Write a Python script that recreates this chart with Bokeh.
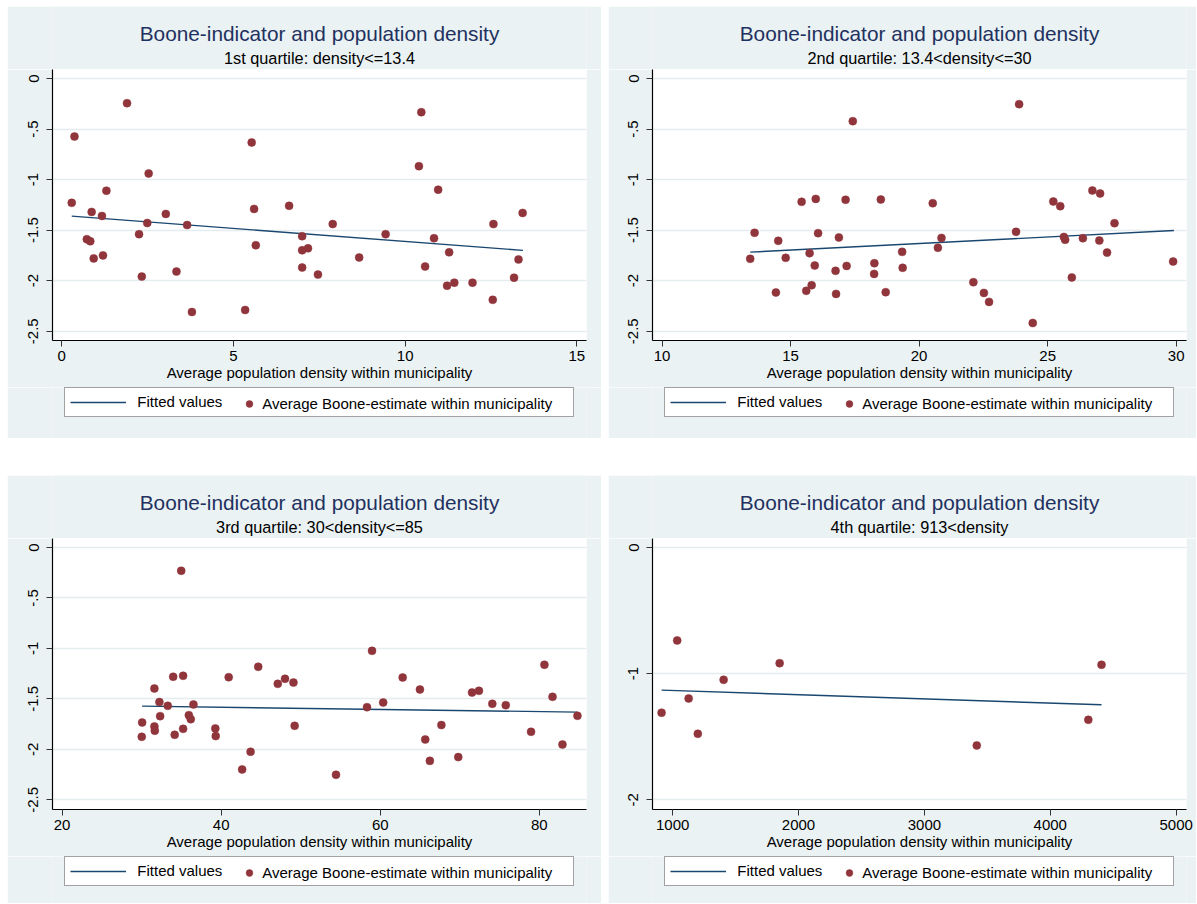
from bokeh.plotting import figure
from bokeh.models import Range1d, FixedTicker, Legend, LegendItem, Label, Spacer
from bokeh.layouts import row, column
from bokeh.embed import file_html
from bokeh.resources import INLINE

# ---------------- data ----------------
TITLE = "Boone-indicator and population density"
SUBTITLES = ["1st quartile: density<=13.4", "2nd quartile: 13.4<density<=30",
             "3rd quartile: 30<density<=85", "4th quartile: 913<density"]
XLABEL = "Average population density within municipality"
LEG_FIT = "Fitted values"
LEG_PTS = "Average Boone-estimate within municipality"

x1 = [0.29, 0.37, 1.90, 0.87, 1.17, 1.30, 2.53, 0.73, 0.83, 0.93, 1.20, 2.25, 2.49, 2.33, 3.03,
      3.34, 3.65, 3.79, 5.34, 5.53, 5.60, 5.65, 6.62, 7.00, 7.00, 7.17, 7.00, 7.46, 7.89, 8.66,
      9.43, 10.40, 10.47, 10.58, 10.84, 10.96, 11.28, 11.22, 11.43, 11.96, 12.57, 12.55, 13.17, 13.30, 13.42]
y1 = [-1.23, -0.574, -0.244, -1.32, -1.36, -1.11, -0.94, -1.59, -1.61, -1.78, -1.75, -1.54, -1.43, -1.96, -1.34,
      -1.91, -1.45, -2.31, -2.29, -0.633, -1.29, -1.65, -1.26, -1.56, -1.70, -1.68, -1.87, -1.94, -1.44, -1.77,
      -1.54, -0.867, -0.333, -1.86, -1.58, -1.10, -1.72, -2.05, -2.02, -2.02, -1.44, -2.19, -1.97, -1.79, -1.33]
fit1_x = [0.29, 13.43]
fit1_y = [-1.362, -1.700]

x2 = [13.43, 13.60, 14.52, 14.81, 14.43, 15.43, 15.98, 16.07, 15.74, 15.94, 15.82, 15.61, 16.75, 16.77, 16.88,
      17.14, 17.18, 17.42, 18.26, 18.25, 18.51, 18.70, 19.34, 19.36, 20.53, 20.87, 20.73, 22.11, 22.52, 22.72,
      23.77, 23.89, 24.42, 25.22, 25.49, 25.63, 25.68, 25.94, 26.37, 26.74, 27.04, 27.01, 27.31, 27.60, 29.88]
y2 = [-1.784, -1.527, -1.606, -1.774, -2.117, -1.220, -1.191, -1.530, -1.728, -1.850, -2.045, -2.101, -1.903, -2.131, -1.573,
      -1.200, -1.854, -0.422, -1.827, -1.933, -1.197, -2.114, -1.715, -1.873, -1.234, -1.577, -1.675, -2.015, -2.121, -2.210,
      -1.517, -0.254, -2.418, -1.217, -1.263, -1.567, -1.596, -1.969, -1.580, -1.108, -1.138, -1.603, -1.722, -1.431, -1.811]
fit2_x = [13.43, 29.91]
fit2_y = [-1.718, -1.504]

x3 = [30.07, 30.02, 31.61, 31.61, 31.66, 32.24, 32.33, 33.29, 33.97, 34.16, 34.98, 35.22, 35.22, 35.94, 36.18,
      36.52, 39.27, 39.32, 40.95, 42.64, 43.70, 44.66, 47.12, 48.03, 49.09, 49.24, 54.44, 58.34, 58.97, 60.37,
      62.82, 64.99, 65.66, 66.24, 67.69, 69.81, 71.54, 72.41, 74.09, 75.78, 78.96, 80.64, 81.66, 82.91, 84.79]
y3 = [-1.734, -1.876, -1.397, -1.773, -1.816, -1.532, -1.671, -1.569, -1.281, -1.856, -0.231, -1.271, -1.797, -1.661, -1.701,
      -1.555, -1.793, -1.869, -1.285, -2.199, -2.024, -1.182, -1.351, -1.301, -1.338, -1.767, -2.252, -1.582, -1.024, -1.536,
      -1.288, -1.407, -1.902, -2.114, -1.760, -2.077, -1.437, -1.420, -1.549, -1.562, -1.826, -1.162, -1.480, -1.952, -1.668]
fit3_x = [30.07, 84.79]
fit3_y = [-1.572, -1.631]

x4 = [912, 1036, 1127, 1200, 1405, 1850, 3416, 4302, 4407]
y4 = [-1.310, -0.737, -1.197, -1.477, -1.049, -0.917, -1.569, -1.366, -0.930]
fit4_x = [912, 4407]
fit4_y = [-1.131, -1.247]

xticks1 = [0, 5, 10, 15]
xticks2 = [10, 15, 20, 25, 30]
xticks3 = [20, 40, 60, 80]
xticks4 = [1000, 2000, 3000, 4000, 5000]
yticks_a = [0, -0.5, -1, -1.5, -2, -2.5]
ylabels_a = ["0", "-.5", "-1", "-1.5", "-2", "-2.5"]
yticks_b = [0, -1, -2]
ylabels_b = ["0", "-1", "-2"]

# ---------------- style ----------------
FONT = "Liberation Sans"
BG = "#EAF2F3"
GRID = "#E4ECEE"
NAVY = "#1A476F"
MAROON = "#90353B"
TITLE_C = "#1F3160"


def strip(width, height, mbl, mbr, xr=(0, 1)):
    # a strip whose frame is aligned with the main plot's frame (Bokeh aligns frames in a column)
    f = figure(width=width, height=height, x_range=Range1d(*xr), y_range=Range1d(5, 6),
               x_axis_type=None, y_axis_type=None, title=None,
               output_backend="svg", toolbar_location=None,
               min_border_left=mbl, min_border_right=mbr, min_border_top=0, min_border_bottom=0)
    f.background_fill_color = BG
    f.border_fill_color = BG
    f.outline_line_color = None
    return f


def panel(xs, ys, fx, fy, xr, yr, xticks, yticks, ylabels, sub, width, mbl, mbr, leg_h):
    fw = width - mbl - mbr
    # ---- title strip ----
    th = 63
    ft = strip(width, th, mbl, mbr)
    ft.add_layout(Label(x=fw / 2, y=th - 27.3, x_units="screen", y_units="screen", text=TITLE,
                        text_align="center", text_baseline="middle", text_font=FONT,
                        text_font_size="20.8px", text_color=TITLE_C))
    ft.add_layout(Label(x=fw / 2, y=th - 51.3, x_units="screen", y_units="screen", text=sub,
                        text_align="center", text_baseline="middle", text_font=FONT,
                        text_font_size="16.3px", text_color="black"))

    # ---- main plot ----
    p = figure(width=width, height=271 + 47, x_range=Range1d(*xr), y_range=Range1d(*yr),
               title=None, output_backend="svg", toolbar_location=None,
               min_border_left=mbl, min_border_right=mbr, min_border_top=0, min_border_bottom=47)
    p.background_fill_color = "white"
    p.border_fill_color = BG
    p.outline_line_color = None

    p.xgrid.visible = False
    p.ygrid.ticker = FixedTicker(ticks=yticks)
    p.ygrid.grid_line_color = GRID
    p.ygrid.grid_line_width = 1.3

    for ax in (p.xaxis, p.yaxis):
        ax.axis_line_color = "black"
        ax.axis_line_width = 1.2
        ax.major_tick_line_color = "#333333"
        ax.major_tick_out = 6
        ax.major_tick_in = 0
        ax.minor_tick_out = 0
        ax.minor_tick_in = 0
        ax.major_label_text_font = FONT
        ax.major_label_text_font_size = "15px"
        ax.major_label_text_color = "black"

    p.xaxis.ticker = FixedTicker(ticks=xticks)
    p.xaxis.major_label_overrides = {float(t): str(t) for t in xticks}
    p.xaxis.major_label_standoff = 4
    p.xaxis.axis_label = XLABEL
    p.xaxis.axis_label_text_font = FONT
    p.xaxis.axis_label_text_font_size = "15px"
    p.xaxis.axis_label_text_font_style = "normal"
    p.xaxis.axis_label_text_color = "black"
    p.xaxis.axis_label_standoff = 0

    p.yaxis.ticker = FixedTicker(ticks=yticks)
    p.yaxis.major_label_overrides = {float(t): l for t, l in zip(yticks, ylabels)}
    p.yaxis.major_label_orientation = "vertical"
    p.yaxis.major_label_standoff = 8

    p.line(fx, fy, line_color=NAVY, line_width=1.4)
    p.scatter(xs, ys, size=8, fill_color=MAROON, line_color=MAROON, line_width=0.5)

    # ---- legend strip (same series, outside this strip's visible y-range) ----
    fl = strip(width, leg_h, mbl, mbr, xr)
    lr = fl.line(fx, fy, line_color=NAVY, line_width=1.4)
    sr = fl.scatter(xs, ys, fill_color=MAROON, line_color=MAROON, line_width=0.5)
    legA = Legend(items=[LegendItem(label=LEG_FIT, renderers=[lr])], location=(12.3, leg_h - 29.7),
                  orientation="horizontal", padding=5, margin=0, spacing=0,
                  glyph_width=56, glyph_height=18, label_height=18, label_standoff=11,
                  label_width=431, border_line_color="#444444", border_line_width=1.3,
                  background_fill_color="white", background_fill_alpha=1.0,
                  label_text_font=FONT, label_text_font_size="15px", label_text_color="black")
    fl.add_layout(legA)
    legB = Legend(items=[LegendItem(label=LEG_PTS, renderers=[sr])], location=(188.3, leg_h - 16.3 - 8.5),
                  orientation="horizontal", padding=0, margin=0, spacing=0,
                  glyph_width=18, glyph_height=17, label_height=17, label_standoff=4,
                  border_line_color=None, background_fill_alpha=0.0,
                  label_text_font=FONT, label_text_font_size="15px", label_text_color="black")
    fl.add_layout(legB)
    return column(ft, p, fl, spacing=0)


c1 = panel(x1, y1, fit1_x, fit1_y, (-0.27, 15.28), (-2.592, 0.089), xticks1, yticks_a, ylabels_a,
           SUBTITLES[0], 594, 45, 15, 51)
c2 = panel(x2, y2, fit2_x, fit2_y, (9.63, 30.40), (-2.592, 0.089), xticks2, yticks_a, ylabels_a,
           SUBTITLES[1], 588, 44, 10, 51)
c3 = panel(x3, y3, fit3_x, fit3_y, (18.80, 85.93), (-2.596, 0.089), xticks3, yticks_a, ylabels_a,
           SUBTITLES[2], 594, 45, 15, 47)
c4 = panel(x4, y4, fit4_x, fit4_y, (840, 5082), (-2.077, 0.071), xticks4, yticks_b, ylabels_b,
           SUBTITLES[3], 588, 44, 10, 47)

layout = column(Spacer(height=6),
                row(Spacer(width=7), c1, Spacer(width=7), c2, spacing=0),
                Spacer(height=37),
                row(Spacer(width=7), c3, Spacer(width=7), c4, spacing=0),
                spacing=0)

open("out.html", "w").write(file_html(layout, INLINE))
